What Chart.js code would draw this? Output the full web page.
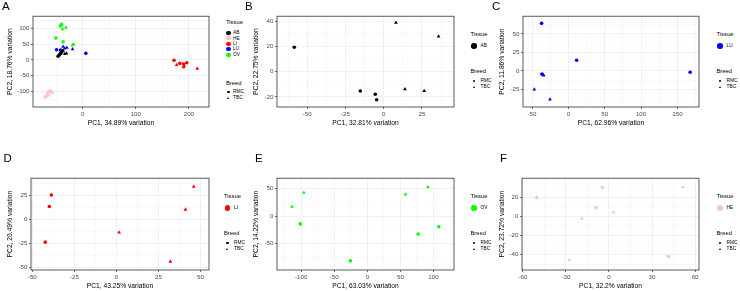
<!DOCTYPE html>
<html>
<head>
<meta charset="utf-8">
<script src="https://cdn.jsdelivr.net/npm/chart.js@4.4.0/dist/chart.umd.min.js"></script>
<style>
  body { margin: 0; background: #fff; width: 740px; height: 291px; position: relative; overflow: hidden;
         font-family: 'Liberation Sans', Arial, sans-serif; }
  canvas { position: absolute; }
  .tag { position: absolute; font-size: 11.5px; line-height: 11.5px; color: #000; }
  .lg { position: absolute; color: #000; white-space: nowrap; }
  .mk { position: absolute; }
</style>
</head>
<body>
<script>
// ---- data ----
const tissues = ['AB', 'HE', 'LI', 'LU', 'OV'];
const breeds = ['RMC', 'TBC'];

// A: all tissues
const allAB_RMC = [[-46.6, 11.3], [-44.7, 15.6], [-42.1, 19.7], [-40.2, 23.8]];
const allAB_TBC = [[-39, 28], [-37.2, 30], [-34, 18.8], [-30.8, 20.6]];
const allHE_RMC = [[-62, -97], [-66, -104], [-58, -103], [-70, -116]];
const allHE_TBC = [[-60, -100], [-68, -110], [-64, -112], [-72, -119]];
const allLI_RMC = [[172, -1], [183, -11], [190, -13], [196, -9]];
const allLI_TBC = [[177, -16], [190, -23], [191, -19], [216, -28]];
const allLU_RMC = [[-49.6, 32.2], [-42.1, 31.2], [-40.2, 27], [5.7, 20.6]];
const allLU_TBC = [[-37.2, 41.6], [-34, 36], [-30.2, 38.4], [-19.4, 34]];
const allOV_RMC = [[-40.2, 112.5], [-42.1, 107], [-50.9, 68.8], [-37.2, 57.2]];
const allOV_TBC = [[-38.3, 96.9], [-32, 102], [-19.4, 46.9], [-17.5, 49]];

// B: AB
const ab_RMC = [[-58.5, 19.5], [-15.3, -15.3], [-5.5, -17.9], [-4.6, -22.3]];
const ab_TBC = [[8, 38.9], [35.9, 28], [13.9, -13.8], [26.5, -15.3]];
// C: LU
const lu_RMC = [[-36.8, 64.2], [11.4, 14.4], [167.5, -1.9], [-36.5, -4.2]];
const lu_TBC = [[-34, -6], [-35, -5.2], [-46.9, -25], [-25.3, -38.7]];
// D: LI
const li_RMC = [[-38.7, 25], [-39.9, 13], [-42.3, -24]];
const li_TBC = [[1.6, -13.8], [32.1, -44.2], [41.1, 9.9], [46, 33.8]];
// E: OV
const ov_RMC = [[-101.4, -14.3], [-25.6, -81.4], [76.8, -32.7], [108, -19.6]];
const ov_TBC = [[-114, 16.8], [-96, 42.3], [57.7, 39.3], [91.4, 52.5]];
// F: HE
const he_RMC = [[-50.4, 19.7], [-4.6, 30.6], [-8.9, 9], [41.4, -42]];
const he_TBC = [[-19, -2.4], [3, 4.1], [-27.7, -45.9], [51.5, 30.6]];

// tick labels
const A_xTicks = [0, 100, 200],       A_yTicks = [-100, -50, 0, 50, 100];
const B_xTicks = [-50, -25, 0, 25],   B_yTicks = [-20, 0, 20, 40];
const C_xTicks = [-50, 0, 50, 100, 150], C_yTicks = [-25, 0, 25, 50];
const D_xTicks = [-50, -25, 0, 25, 50],  D_yTicks = [-50, -25, 0, 25];
const E_xTicks = [-100, -50, 0, 50, 100], E_yTicks = [-50, 0, 50];
const F_xTicks = [-60, -30, 0, 30, 60],  F_yTicks = [-40, -20, 0, 20];

// ---- styling ----
const FONT = "'Liberation Sans', Arial, sans-serif";
const colors = { AB: '#000000', HE: '#ffc0cb', LI: '#ff0000', LU: '#0000ff', OV: '#00ff00' };

const panels = [
  { tag: 'A', tagPos: [2, 0.5], box: [33, 15, 209, 107], xr: [-94, 238], yr: [-149, 138],
    xt: A_xTicks, yt: A_yTicks, xTitle: 'PC1, 34.89% variation', yTitle: 'PC2, 18.76% variation', yPad: 3,
    series: [['AB', 'RMC', allAB_RMC], ['AB', 'TBC', allAB_TBC], ['HE', 'RMC', allHE_RMC], ['HE', 'TBC', allHE_TBC],
             ['LI', 'RMC', allLI_RMC], ['LI', 'TBC', allLI_TBC], ['LU', 'RMC', allLU_RMC], ['LU', 'TBC', allLU_TBC],
             ['OV', 'RMC', allOV_RMC], ['OV', 'TBC', allOV_TBC]],
    legend: { x: 226, tissues: tissues } },
  { tag: 'B', tagPos: [245, 0.5], box: [277, 15, 454, 107], xr: [-69.8, 46], yr: [-28, 44.1],
    xt: B_xTicks, yt: B_yTicks, xTitle: 'PC1, 32.81% variation', yTitle: 'PC2, 22.75% variation', yPad: 5.5,
    series: [['AB', 'RMC', ab_RMC], ['AB', 'TBC', ab_TBC]], legend: { x: 470.5, tissues: ['AB'] } },
  { tag: 'C', tagPos: [492, 0.5], box: [523, 15, 699, 107], xr: [-62.4, 179.7], yr: [-48.8, 73.8],
    xt: C_xTicks, yt: C_yTicks, xTitle: 'PC1, 62.96% variation', yTitle: 'PC2, 11.86% variation', yPad: 5.5,
    series: [['LU', 'RMC', lu_RMC], ['LU', 'TBC', lu_TBC]], legend: { x: 716.5, tissues: ['LU'] } },
  { tag: 'D', tagPos: [3.5, 152.5], box: [31, 177, 209, 270], xr: [-50.8, 55.1], yr: [-53, 42.5],
    xt: D_xTicks, yt: D_yTicks, xTitle: 'PC1, 43.25% variation', yTitle: 'PC2, 20.49% variation', yPad: 5,
    series: [['LI', 'RMC', li_RMC], ['LI', 'TBC', li_TBC]], legend: { x: 224, tissues: ['LI'] } },
  { tag: 'E', tagPos: [255, 152.5], box: [277, 177, 454, 270], xr: [-136.6, 131], yr: [-98, 68.6],
    xt: E_xTicks, yt: E_yTicks, xTitle: 'PC1, 63.03% variation', yTitle: 'PC2, 14.22% variation', yPad: 5.5,
    series: [['OV', 'RMC', ov_RMC], ['OV', 'TBC', ov_TBC]], legend: { x: 470.5, tissues: ['OV'] } },
  { tag: 'F', tagPos: [500, 152.5], box: [522, 177, 699, 270], xr: [-60.6, 62.7], yr: [-56.2, 40],
    xt: F_xTicks, yt: F_yTicks, xTitle: 'PC1, 32.2% variation', yTitle: 'PC2, 23.72% variation', yPad: 6.5,
    series: [['HE', 'RMC', he_RMC], ['HE', 'TBC', he_TBC]], legend: { x: 716.5, tissues: ['HE'] } }
];

// majors plus the minor lines half way between them
function withMinor(majors, range) {
  const step = majors[1] - majors[0];
  const vals = [];
  for (let v = majors[0] - step; v <= majors[majors.length - 1] + step; v += step / 2) vals.push(v);
  return vals.filter(v => v >= range[0] && v <= range[1]);
}

function axisOpts(range, majors, title, dir, titlePad) {
  const set = new Set(majors);
  const isMajor = c => c.tick && set.has(c.tick.value);
  return {
    type: 'linear', min: range[0], max: range[1],
    afterBuildTicks: sc => { sc.ticks = withMinor(majors, range).map(v => ({ value: v })); },
    afterFit: sc => { if (dir === 'x') sc.height = 22; else sc.width = 30; },
    ticks: {
      autoSkip: false, maxRotation: 0, padding: dir === 'x' ? 2 : 1.5, color: '#4d4d4d',
      font: { family: FONT, size: 6.2 },
      callback: v => set.has(v) ? String(v) : ''
    },
    grid: {
      color: '#ebebeb', lineWidth: c => isMajor(c) ? 0.7 : 0.35,
      tickLength: 2, tickWidth: 0.7, tickColor: c => isMajor(c) ? '#333333' : 'rgba(0,0,0,0)'
    },
    border: { display: false },
    title: {
      display: true, text: title, color: '#000', font: { family: FONT, size: 6.7 },
      padding: dir === 'x' ? { top: 0, bottom: 2 } : { top: titlePad, bottom: 0 }
    }
  };
}

const frame = {
  id: 'frame',
  afterDraw(chart) {
    const { ctx, chartArea: a } = chart;
    ctx.save();
    ctx.strokeStyle = '#333333';
    ctx.lineWidth = 0.8;
    ctx.strokeRect(a.left, a.top, a.right - a.left, a.bottom - a.top);
    ctx.restore();
  }
};

function addText(x, yc, s, size) {
  const d = document.createElement('div');
  d.className = 'lg';
  d.style.left = x + 'px';
  d.style.top = (yc - size * 0.6) + 'px';
  d.style.fontSize = size + 'px';
  d.style.lineHeight = (size * 1.2) + 'px';
  d.textContent = s;
  document.body.appendChild(d);
}

function addDot(cx, cy, r, color) {
  const d = document.createElement('div');
  d.className = 'mk';
  d.style.cssText += `left:${cx - r}px;top:${cy - r}px;width:${2 * r}px;height:${2 * r}px;border-radius:50%;background:${color}`;
  document.body.appendChild(d);
}

function addTri(cx, cy, s, color) {
  const d = document.createElement('div');
  d.className = 'mk';
  const h = s * 0.87;
  d.style.cssText += `left:${cx - s / 2}px;top:${cy - h / 2}px;width:0;height:0;border-left:${s / 2}px solid transparent;border-right:${s / 2}px solid transparent;border-bottom:${h}px solid ${color}`;
  document.body.appendChild(d);
}

function drawLegend(p) {
  const L = p.legend.x, top = p.box[1];
  if (p.legend.tissues.length > 1) {
    addText(L, top + 7, 'Tissue', 5.8);
    p.legend.tissues.forEach((t, i) => {
      const y = top + 18 + i * 5.4;
      addDot(L + 2.5, y, 2.1, colors[t]);
      addText(L + 7, y, t, 4.8);
    });
    addText(L, top + 68, 'Breed', 5.8);
    addDot(L + 2.5, top + 77, 1.2, '#000');
    addText(L + 7, top + 77, 'RMC', 4.8);
    addTri(L + 2.5, top + 83, 3, '#000');
    addText(L + 7, top + 83, 'TBC', 4.8);
  } else {
    const t = p.legend.tissues[0];
    addText(L, top + 19.6, 'Tissue', 5.8);
    addDot(L + 3.5, top + 31, 2.8, colors[t]);
    addText(L + 10, top + 31, t, 4.8);
    addText(L, top + 56.3, 'Breed', 5.8);
    addDot(L + 3.5, top + 66.3, 1.2, '#000');
    addText(L + 10, top + 66.3, 'RMC', 4.8);
    addTri(L + 3.5, top + 72, 3, '#000');
    addText(L + 10, top + 72, 'TBC', 4.8);
  }
}

function buildPanel(p) {
  const [l, t, r, b] = p.box;
  const left = l - 30, top = t - 4;
  const cv = document.createElement('canvas');
  cv.width = r + 4 - left;
  cv.height = b + 22 - top;
  cv.style.left = left + 'px';
  cv.style.top = top + 'px';
  document.body.appendChild(cv);

  new Chart(cv, {
    type: 'scatter',
    data: {
      datasets: p.series.map(([tissue, breed, pts]) => ({
        label: tissue + ' ' + breed,
        data: pts.map(([x, y]) => ({ x, y })),
        backgroundColor: colors[tissue],
        borderColor: colors[tissue],
        borderWidth: 0,
        pointStyle: breed === 'TBC' ? 'triangle' : 'circle',
        pointRadius: breed === 'TBC' ? 2.2 : 1.8
      }))
    },
    options: {
      responsive: false,
      animation: false,
      devicePixelRatio: 1,
      layout: { padding: { top: 4, right: 4, left: 0, bottom: 0 } },
      plugins: { legend: { display: false }, tooltip: { enabled: false } },
      scales: {
        x: axisOpts(p.xr, p.xt, p.xTitle, 'x'),
        y: axisOpts(p.yr, p.yt, p.yTitle, 'y', p.yPad)
      }
    },
    plugins: [frame]
  });

  const tag = document.createElement('div');
  tag.className = 'tag';
  tag.style.left = p.tagPos[0] + 'px';
  tag.style.top = p.tagPos[1] + 'px';
  tag.textContent = p.tag;
  document.body.appendChild(tag);

  drawLegend(p);
}

panels.forEach(buildPanel);
</script>
</body>
</html>
